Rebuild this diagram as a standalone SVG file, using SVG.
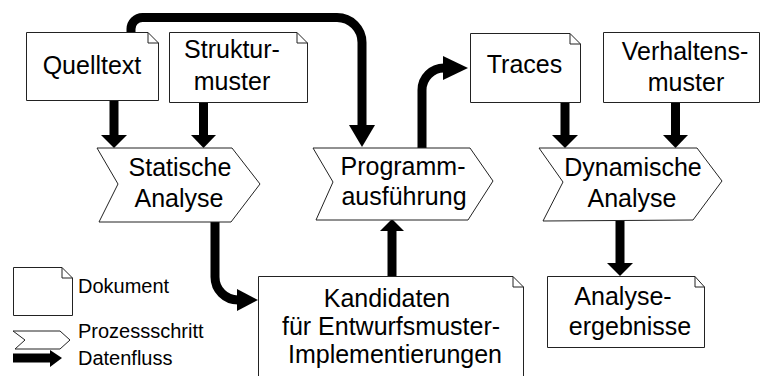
<svg xmlns="http://www.w3.org/2000/svg" width="761" height="376" viewBox="0 0 761 376">
  <style>
    .doc { fill: #fff; stroke: #222; stroke-width: 1; }
    .fold { fill: none; stroke: #222; stroke-width: 1; }
    .step { fill: #fff; stroke: #222; stroke-width: 1; }
    .lbl { font-family: "Liberation Sans", Arial, Helvetica, sans-serif; font-size: 25px; fill: #000; text-anchor: middle; }
    .leg { font-family: "Liberation Sans", Arial, Helvetica, sans-serif; font-size: 20px; fill: #000; }
    .flow { fill: none; stroke: #000; stroke-width: 9; }
    .head { fill: #000; stroke: none; }
  </style>
  <rect width="761" height="376" fill="#fff"/>

  <!-- data flow connectors -->
  <g id="connectors">
    <!-- Quelltext -> Programmausführung -->
    <path class="flow" d="M131,33 V29 A11.5,11.5 0 0 1 142.5,17.5 H337 A25,25 0 0 1 362,42.5 V126"/>
    <polygon class="head" points="349,125 375,125 362,147"/>
    <!-- Quelltext -> Statische Analyse -->
    <path class="flow" d="M114,100 V136"/>
    <polygon class="head" points="101,135 127,135 114,148"/>
    <!-- Strukturmuster -> Statische Analyse -->
    <path class="flow" d="M203.5,102 V136"/>
    <polygon class="head" points="191,135 216,135 203.5,148"/>
    <!-- Statische Analyse -> Kandidaten -->
    <path class="flow" d="M215,222 V277 A23,23 0 0 0 238,300 H239"/>
    <polygon class="head" points="237,289 258,300 237,311"/>
    <!-- Kandidaten -> Programmausführung -->
    <path class="flow" d="M392,276 V230"/>
    <polygon class="head" points="380,231 404,231 392,219"/>
    <!-- Programmausführung -> Traces -->
    <path class="flow" d="M422,148 V90 A22,22 0 0 1 444,68"/>
    <polygon class="head" points="443,56 468,68 443,80"/>
    <!-- Traces -> Dynamische Analyse -->
    <path class="flow" d="M565,102 V136"/>
    <polygon class="head" points="552,135 578,135 565,148"/>
    <!-- Verhaltensmuster -> Dynamische Analyse -->
    <path class="flow" d="M675.5,102 V136"/>
    <polygon class="head" points="663,135 688,135 675.5,148"/>
    <!-- Dynamische Analyse -> Analyseergebnisse -->
    <path class="flow" d="M620,220 V264"/>
    <polygon class="head" points="607,263 633,263 620,276"/>
  </g>

  <g id="quelltext">
    <path class="doc" d="M26.5,32.5 H148 L158.5,43 V100.5 H26.5 Z"/>
    <path class="fold" d="M148,32.5 V43 H158.5"/>
    <text class="lbl" x="92" y="74">Quelltext</text>
  </g>

  <g id="strukturmuster">
    <path class="doc" d="M169.5,32.5 H297 L307.5,43 V102.5 H169.5 Z"/>
    <path class="fold" d="M297,32.5 V43 H307.5"/>
    <text class="lbl" x="232" y="58">Struktur-</text>
    <text class="lbl" x="232" y="90">muster</text>
  </g>

  <g id="traces">
    <path class="doc" d="M470.5,33.5 H570 L580.5,44 V102.5 H470.5 Z"/>
    <path class="fold" d="M570,33.5 V44 H580.5"/>
    <text class="lbl" x="524.5" y="73">Traces</text>
  </g>

  <g id="verhaltensmuster">
    <path class="doc" d="M603.5,32.5 H759.5 V102.5 H603.5 Z"/>
    <text class="lbl" x="685" y="60">Verhaltens-</text>
    <text class="lbl" x="686" y="91">muster</text>
  </g>

  <g id="statische-analyse">
    <polygon class="step" points="97,148 232,148 260,184 231,222 99,222 118,184"/>
    <text class="lbl" x="180" y="176">Statische</text>
    <text class="lbl" x="179" y="207">Analyse</text>
  </g>

  <g id="programmausfuehrung">
    <polygon class="step" points="313,148 470,148 493,181 468,220 316,220 333,182"/>
    <text class="lbl" x="403" y="175">Programm-</text>
    <text class="lbl" x="404" y="205">ausführung</text>
  </g>

  <g id="dynamische-analyse">
    <polygon class="step" points="539,148 697,148 722,181 693,220 543,221 563,182"/>
    <text class="lbl" x="633" y="176">Dynamische</text>
    <text class="lbl" x="632" y="207">Analyse</text>
  </g>

  <g id="kandidaten">
    <path class="doc" d="M258.5,276.5 H513 L523.5,287 V380 H258.5 Z"/>
    <path class="fold" d="M513,276.5 V287 H523.5"/>
    <text class="lbl" x="387" y="307">Kandidaten</text>
    <text class="lbl" x="391" y="335">für Entwurfsmuster-</text>
    <text class="lbl" x="395" y="363">Implementierungen</text>
  </g>

  <g id="analyseergebnisse">
    <path class="doc" d="M547.5,276.5 H695 L704.5,287 V347.5 H547.5 Z"/>
    <path class="fold" d="M695,276.5 V287 H704.5"/>
    <text class="lbl" x="623" y="305">Analyse-</text>
    <text class="lbl" x="630" y="335">ergebnisse</text>
  </g>

  <!-- legend -->
  <g id="legend">
    <path class="doc" d="M13.5,267.5 H62 L72.5,278 V315.5 H13.5 Z"/>
    <path class="fold" d="M62,267.5 V278 H72.5"/>
    <text class="leg" x="78" y="293">Dokument</text>
    <polygon class="step" points="13,331 60,331 70,340 60,349 15,349 25,340"/>
    <text class="leg" x="78" y="338">Prozessschritt</text>
    <path class="flow" d="M13,358 H51"/>
    <polygon class="head" points="50,350 62,358 50,367"/>
    <text class="leg" x="78" y="365">Datenfluss</text>
  </g>
</svg>
